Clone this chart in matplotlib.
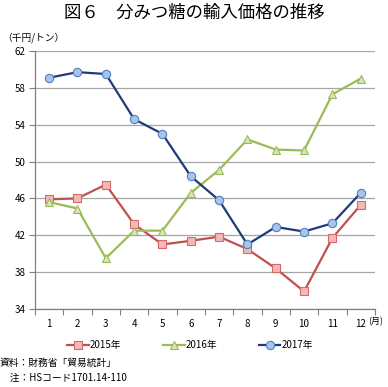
import matplotlib
matplotlib.use("Agg")
import matplotlib.pyplot as plt
from matplotlib.ticker import FixedLocator

plt.rcParams['font.family'] = ['Noto Sans CJK JP', 'DejaVu Sans']

# data (千円/トン)
months = list(range(1, 13))
y2015 = [45.9, 46.0, 47.5, 43.2, 41.0, 41.4, 41.85, 40.5, 38.4, 35.9, 41.7, 45.3]
y2016 = [45.6, 44.9, 39.5, 42.5, 42.5, 46.6, 49.1, 52.4, 51.3, 51.2, 57.3, 59.0]
y2017 = [59.1, 59.7, 59.5, 54.6, 53.0, 48.4, 45.8, 41.0, 42.9, 42.4, 43.3, 46.6]
yticks = [34, 38, 42, 46, 50, 54, 58, 62]

series = [
    ("2015年", y2015, 's', '#C0504D', '#F2B9B8', '#D46A67'),
    ("2016年", y2016, '^', '#9BBB59', '#D7E4BD', '#9BBB59'),
    ("2017年", y2017, 'o', '#1F3C78', '#A8C4EA', '#4F81BD'),
]

fig = plt.figure(figsize=(3.88, 3.87), dpi=100)
ax = fig.add_axes([0.0902, 0.2016, 0.876, 0.6667])

for label, vals, mk, lc, fc, ec in series:
    ax.plot(months, vals, color=lc, linewidth=1.6, marker=mk, markersize=6,
            markerfacecolor=fc, markeredgecolor=ec, markeredgewidth=0.8,
            label=label, zorder=3)

ax.set_xlim(0.5, 12.5)
ax.set_ylim(34, 62)
ax.set_yticks(yticks)
ax.set_xticks(months)
ax.xaxis.set_minor_locator(FixedLocator([m + 0.5 for m in range(0, 13)]))
ax.tick_params(axis='x', which='major', length=0, pad=7, labelsize=7)
ax.tick_params(axis='x', which='minor', length=4, color='#808080', width=0.8)
ax.tick_params(axis='y', length=4, color='#808080', width=0.8, labelsize=7, pad=3)
ax.grid(axis='y', color='#A6A6A6', linewidth=0.9)
ax.set_axisbelow(True)
for s in ['top', 'right']:
    ax.spines[s].set_visible(False)
for s in ['left', 'bottom']:
    ax.spines[s].set_color('#808080')
    ax.spines[s].set_linewidth(0.9)

fig.text(0.5, 0.968, "図６　分みつ糖の輸入価格の推移", ha='center', va='center',
         fontsize=12.5)
fig.text(0.005, 0.902, "（千円/トン）", ha='left', va='center', fontsize=7)
fig.text(0.950, 0.168, "(月)", ha='left', va='center', fontsize=6.5)

fig.legend(loc='center', bbox_to_anchor=(0.49, 0.108), ncol=3, frameon=False,
           fontsize=7, handlelength=2.2, handletextpad=0.1, columnspacing=4.3)

fig.text(0.0, 0.062, "資料：財務省「貿易統計」", ha='left', va='center', fontsize=7)
fig.text(0.0, 0.023, "　注：HSコード1701.14-110", ha='left', va='center', fontsize=7)

fig.savefig("out.png", dpi=100)
